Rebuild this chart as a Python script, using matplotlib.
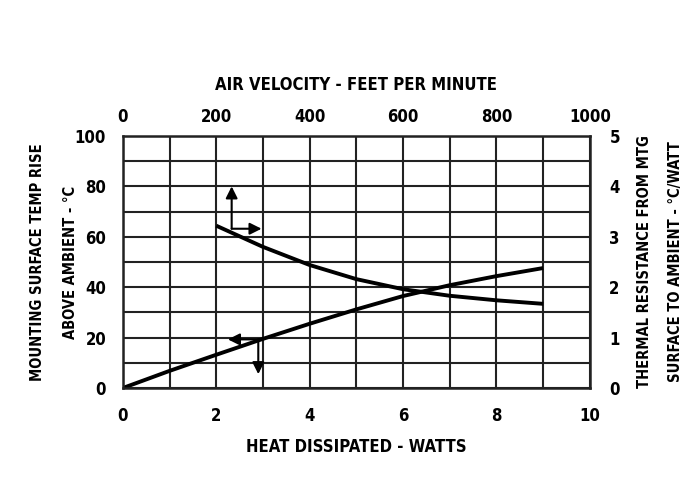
import matplotlib.pyplot as plt
import numpy as np

# bottom / left scale: heat dissipated vs temp rise
watts = [0, 1, 2, 3, 4, 5, 6, 7, 8, 9]
temp_rise = [0, 6.8, 13.2, 19.5, 25.5, 31.2, 36.5, 40.8, 44.4, 47.6]

# top / right scale: air velocity vs thermal resistance
air_fpm = [200, 300, 400, 500, 600, 700, 800, 900]
theta = [3.22, 2.80, 2.44, 2.16, 1.96, 1.83, 1.74, 1.67]

# annotation arrows (start point, end point) in bottom/left data units
arrows = [((2.33, 63.2), (2.33, 80)), ((2.33, 63.2), (2.97, 63.2)),
          ((2.9, 19.3), (2.25, 19.3)), ((2.9, 19.3), (2.9, 5.5))]

plt.rcParams['font.family'] = ['DejaVu Sans']
plt.rcParams['font.stretch'] = 'condensed'
plt.rcParams['font.weight'] = 'bold'
plt.rcParams['axes.labelweight'] = 'bold'
fs = 12
fs_y = 10.5

fig = plt.figure(figsize=(6.94, 4.99), dpi=100)
ax = fig.add_axes([0.177, 0.2224, 0.673, 0.5051])

ax.set_xlim(0, 10)
ax.set_ylim(0, 100)
ax.set_xticks(np.arange(0, 11, 1))
ax.set_yticks(np.arange(0, 101, 10))
ax.set_xticklabels([str(v) if v % 2 == 0 else '' for v in range(11)])
ax.set_yticklabels([str(v) if v % 20 == 0 else '' for v in range(0, 101, 10)])
ax.grid(True, color='#222222', lw=1.5)
ax.tick_params(length=0, labelsize=fs, pad=12)
ax.tick_params(axis='x', pad=14)
for s in ax.spines.values():
    s.set_linewidth(1.8)
    s.set_color('#222222')
ax.set_xlabel('HEAT DISSIPATED - WATTS', fontsize=fs, labelpad=9)
ax.set_ylabel('MOUNTING SURFACE TEMP RISE\nABOVE AMBIENT - °C', fontsize=fs_y,
              labelpad=-2, linespacing=2.5)

ax.plot(watts, temp_rise, color='black', lw=2.8, solid_capstyle='butt')

for (x0, y0), (x1, y1) in arrows:
    ax.annotate('', xy=(x1, y1), xytext=(x0, y0),
                arrowprops=dict(arrowstyle='-|>,head_length=0.7,head_width=0.35',
                                color='black', lw=1.5, shrinkA=0, shrinkB=0))

ax2 = fig.add_axes(ax.get_position(), frameon=False)
ax2.set_xlim(0, 1000)
ax2.set_ylim(0, 5)
ax2.xaxis.tick_top()
ax2.yaxis.tick_right()
ax2.xaxis.set_label_position('top')
ax2.yaxis.set_label_position('right')
ax2.set_xticks(range(0, 1001, 200))
ax2.set_yticks(range(0, 6))
ax2.tick_params(length=0, labelsize=fs)
ax2.tick_params(axis='x', pad=7)
ax2.tick_params(axis='y', pad=14)
ax2.set_xlabel('AIR VELOCITY - FEET PER MINUTE', fontsize=fs, labelpad=13)
ax2.set_ylabel('THERMAL RESISTANCE FROM MTG\nSURFACE TO AMBIENT - °C/WATT',
               fontsize=fs_y, labelpad=12, linespacing=2.4)
ax2.plot(air_fpm, theta, color='black', lw=2.8, solid_capstyle='butt')

fig.savefig('out.png', dpi=100)
